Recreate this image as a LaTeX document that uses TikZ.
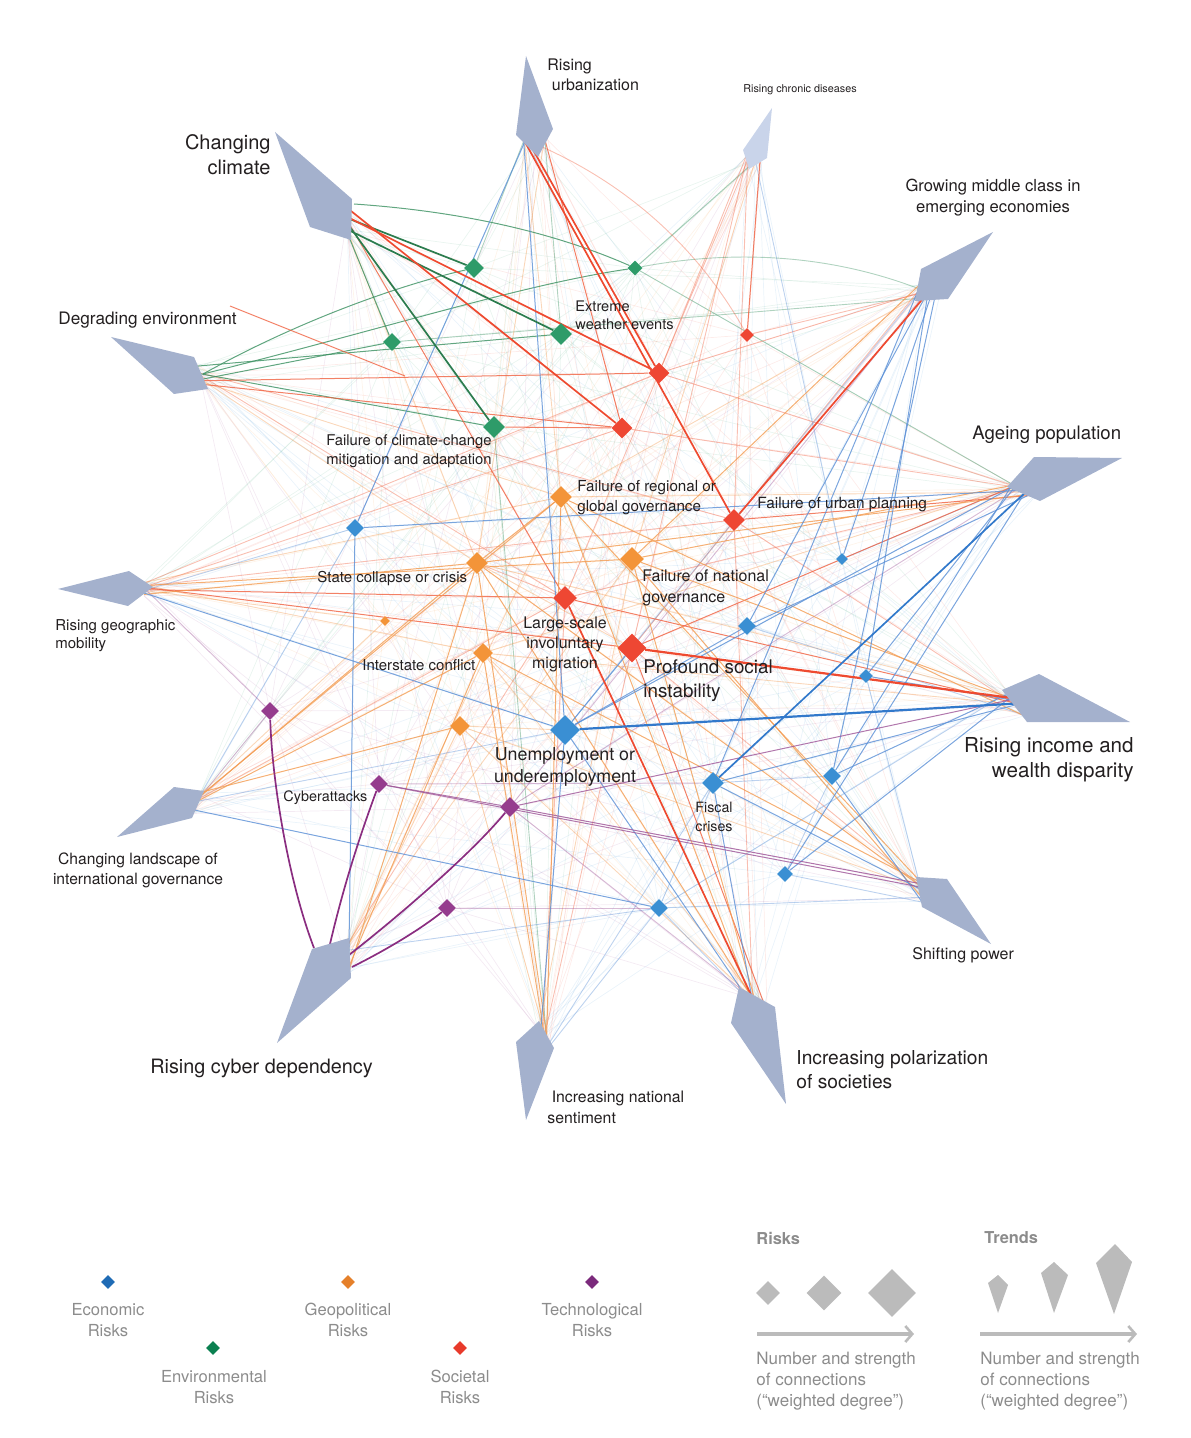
\documentclass[tikz,border=0pt]{standalone}
\usepackage{fontspec}
\setmainfont{TeX Gyre Heros}
\usetikzlibrary{shapes.geometric,arrows.meta,calc}
\pgfdeclarelayer{bg}
\pgfsetlayers{bg,main}
\definecolor{trendc}{HTML}{A4B1CD}
\definecolor{trendl}{HTML}{C9D4EA}
\definecolor{txt}{HTML}{231F20}
\definecolor{legtxt}{HTML}{8C8C8C}
\definecolor{leggray}{HTML}{BBBBBB}
\definecolor{env}{HTML}{2E9B69}
\definecolor{soc}{HTML}{EE4733}
\definecolor{geo}{HTML}{F39439}
\definecolor{eco}{HTML}{3A8FD3}
\definecolor{tec}{HTML}{953C8E}
\definecolor{envS}{HTML}{2C7C4E}
\definecolor{envM}{HTML}{3A9060}
\definecolor{socS}{HTML}{EE4A30}
\definecolor{socM}{HTML}{F0603F}
\definecolor{geoM}{HTML}{F39C52}
\definecolor{ecoS}{HTML}{3279CB}
\definecolor{ecoM}{HTML}{5A8FD6}
\definecolor{tecS}{HTML}{8A2D80}
\definecolor{tecM}{HTML}{9E5598}
\definecolor{legEco}{HTML}{1F6BB5}
\definecolor{legGeo}{HTML}{E5802A}
\definecolor{legTec}{HTML}{7B2A7C}
\definecolor{legEnv}{HTML}{0B8050}
\definecolor{legSoc}{HTML}{E83A2B}
\newcommand\myfs[2]{\fontsize{#1}{#2}\selectfont}
\tikzset{
  risk/.style={shape=diamond, fill=#1, inner sep=0pt, draw=none},
  lbl/.style={inner sep=0pt, text=txt},
  leglbl/.style={inner sep=0pt, text=legtxt, align=center},
  sE/.style={line width=0.85pt},
  mE/.style={line width=0.5pt, draw opacity=0.8},
  lE/.style={line width=0.45pt, draw opacity=0.4},
  hz/.style={line width=0.35pt, draw opacity=0.10},
}
\begin{document}
\begin{tikzpicture}[x=0.5pt,y=-0.5pt]
\pgfmathsetseed{7}
\path[use as bounding box] (0,0) rectangle (1190,1438);

% ---------- trend anchor coordinates (inner edge of each kite) ----------
\coordinate (urb-1) at (522,140);   \coordinate (urb-2) at (548,137);
\coordinate (clim-1) at (347,206);  \coordinate (clim-2) at (347,236);
\coordinate (chron-1) at (746,156); \coordinate (chron-2) at (762,162);
\coordinate (mid-1) at (919,284);   \coordinate (mid-2) at (940,297);
\coordinate (degr-1) at (195,362);  \coordinate (degr-2) at (204,388);
\coordinate (age-1) at (1011,484);  \coordinate (age-2) at (1036,497);
\coordinate (mob-1) at (144,581);   \coordinate (mob-2) at (144,596);
\coordinate (inc-1) at (1007,690);  \coordinate (inc-2) at (1025,717);
\coordinate (shift-1) at (919,880); \coordinate (shift-2) at (922,903);
\coordinate (land-1) at (199,792);  \coordinate (land-2) at (194,814);
\coordinate (cyber-1) at (346,943); \coordinate (cyber-2) at (349,975);
\coordinate (nat-1) at (537,1026);  \coordinate (nat-2) at (550,1046);
\coordinate (pol-1) at (738,993);   \coordinate (pol-2) at (770,1006);
\coordinate (cyberT) at (314,948);
\coordinate (cyberT2) at (330,944);
\coordinate (cyberM) at (349,955);
\coordinate (cyberR) at (352,967);
\coordinate (climT) at (354,204);
\coordinate (degrM) at (203,374);
\coordinate (midM) at (922,290);
\coordinate (urbM) at (540,146);
\coordinate (frA) at (230,306);
\coordinate (frB) at (405,376);

% ---------- risk diamonds ----------
\node[risk=env, minimum size=10pt] (envA) at (474,268) {};
\node[risk=env, minimum size=7.5pt] (envB) at (635,268) {};
\node[risk=env, minimum size=11pt] (envC) at (561,334) {};
\node[risk=env, minimum size=9pt] (envD) at (392,342) {};
\node[risk=env, minimum size=11pt] (envE) at (494,427) {};
\node[risk=soc, minimum size=7pt] (socA) at (747,335) {};
\node[risk=soc, minimum size=10.5pt] (socB) at (659,373) {};
\node[risk=soc, minimum size=10.5pt] (socC) at (622,428) {};
\node[risk=soc, minimum size=11pt] (socD) at (734,520) {};
\node[risk=soc, minimum size=12pt] (socE) at (565,598) {};
\node[risk=soc, minimum size=14.5pt] (socF) at (632,648) {};
\node[risk=geo, minimum size=11pt] (geoA) at (561,497) {};
\node[risk=geo, minimum size=11pt] (geoB) at (477,563) {};
\node[risk=geo, minimum size=12pt] (geoC) at (632,559) {};
\node[risk=geo, minimum size=5pt] (geoD) at (385,621) {};
\node[risk=geo, minimum size=10pt] (geoE) at (483,653) {};
\node[risk=geo, minimum size=10pt] (geoF) at (460,726) {};
\node[risk=eco, minimum size=9pt] (ecoA) at (355,528) {};
\node[risk=eco, minimum size=6pt] (ecoB) at (842,559) {};
\node[risk=eco, minimum size=9pt] (ecoC) at (747,626) {};
\node[risk=eco, minimum size=7pt] (ecoD) at (866,676) {};
\node[risk=eco, minimum size=15pt] (ecoE) at (565,730) {};
\node[risk=eco, minimum size=11pt] (ecoF) at (713,783) {};
\node[risk=eco, minimum size=9pt] (ecoG) at (832,776) {};
\node[risk=eco, minimum size=8pt] (ecoH) at (785,874) {};
\node[risk=eco, minimum size=9pt] (ecoI) at (659,908) {};
\node[risk=tec, minimum size=9pt] (tecA) at (270,711) {};
\node[risk=tec, minimum size=9pt] (tecB) at (379,784) {};
\node[risk=tec, minimum size=10pt] (tecC) at (510,807) {};
\node[risk=tec, minimum size=9pt] (tecD) at (447,908) {};

% ---------- connectors ----------
\begin{pgfonlayer}{bg}
% faint haze: trend to risk
\foreach \t in {urb,clim,chron,mid,degr,age,mob,inc,shift,land,cyber,nat,pol}{
  \foreach \r/\c in {envA/env,envB/env,envC/env,envD/env,envE/env,socA/soc,socB/soc,socC/soc,socD/soc,socE/soc,socF/soc,geoA/geo,geoB/geo,geoC/geo,geoD/geo,geoE/geo,geoF/geo,ecoA/eco,ecoB/eco,ecoC/eco,ecoD/eco,ecoE/eco,ecoF/eco,ecoG/eco,ecoH/eco,ecoI/eco,tecA/tec,tecB/tec,tecC/tec,tecD/tec}{
    \draw[hz,draw=\c] ($(\t-1)!rnd!(\t-2)$) -- (\r);
  }
}
% light: trend to risk
\foreach \a/\b in {urb/envA,urb/envC,mid/envD,chron/envB,age/envB,nat/envE}
  \draw[lE,envM] ($(\a-1)!rnd!(\a-2)$) -- (\b);
\foreach \a/\b in {degr/socE,chron/socB,chron/socE,chron/socF,chron/socD,land/socE,mob/socB,mob/socC,mob/socD,nat/socF,nat/socE,shift/socF,age/socE,mid/socA,mid/socB,mid/socF,cyber/socE,inc/socD,pol/socD,age/socB,age/socC,degr/socD}
  \draw[lE,socM] ($(\a-1)!rnd!(\a-2)$) -- (\b);
\foreach \a/\b in {mob/geoA,mob/geoE,mob/geoD,land/geoD,cyber/geoA,cyber/geoC,cyber/geoF,nat/geoC,nat/geoF,pol/geoE,pol/geoF,shift/geoF,age/geoA,age/geoE,inc/geoB,inc/geoE,degr/geoB,degr/geoA,urb/geoA,urb/geoB,chron/geoC,mid/geoA,clim/geoB}
  \draw[lE,geoM] ($(\a-1)!rnd!(\a-2)$) -- (\b);
\foreach \a/\b in {inc/ecoI,inc/ecoC,shift/ecoH,shift/ecoD,shift/ecoI,pol/ecoI,cyber/ecoI,land/ecoE,nat/ecoI,nat/ecoF,land/ecoA,mob/ecoA,age/ecoB,chron/ecoB,mid/ecoE}
  \draw[lE,ecoM] ($(\a-1)!rnd!(\a-2)$) -- (\b);
\foreach \a/\b in {age/tecC,pol/tecC,land/tecA,mid/tecC,mob/tecA}
  \draw[lE,tecM] ($(\a-1)!rnd!(\a-2)$) -- (\b);
% light: risk to risk
\foreach \a/\b in {geoF/ecoE,geoE/ecoE,geoB/socF}
  \draw[lE,geoM] (\a) -- (\b);
\foreach \a/\b in {geoB/socE}
  \draw[lE,socM] (\a) -- (\b);
\foreach \a/\b in {ecoF/ecoG,ecoF/ecoI,ecoH/ecoG}
  \draw[lE,ecoM] (\a) -- (\b);
\foreach \a/\b in {tecD/ecoI,tecB/ecoF}
  \draw[lE,tecM] (\a) -- (\b);
\draw[lE,envM] (midM) .. controls (820,250) and (720,252) .. (envB);
\draw[lE,socM] (urbM) .. controls (640,190) and (705,260) .. (socA);
% medium: trend to risk
\foreach \a/\b in {clim/envD,degr/envC,degr/envD,degr/envE}
  \draw[mE,envM] ($(\a-1)!rnd!(\a-2)$) -- (\b);
\draw[mE,envM] (climT) .. controls (470,212) and (560,235) .. (envB);
\draw[mE,envM] (degrM) .. controls (300,320) and (400,285) .. (envA);
\draw[mE,envM] (degrM) .. controls (380,330) and (520,285) .. (envB);
\foreach \a/\b in {urb/socC,degr/socB,degr/socC,mob/socE,mob/socF,age/socF,age/socD,pol/socF,inc/socE,chron/socA,clim/socE}
  \draw[mE,socM] ($(\a-1)!rnd!(\a-2)$) -- (\b);
\draw[mE,socM] (frA) -- (frB);
\foreach \a/\b in {land/geoA,land/geoB,land/geoE,land/geoF,mob/geoB,mob/geoC,cyber/geoB,cyber/geoE,nat/geoB,nat/geoE,nat/geoA,pol/geoB,pol/geoC,pol/geoA,shift/geoB,shift/geoE,shift/geoA,shift/geoC,age/geoC,age/geoB,inc/geoC,mid/geoC,inc/geoA}
  \draw[mE,geoM] ($(\a-1)!rnd!(\a-2)$) -- (\b);
\foreach \a/\b in {mid/ecoB,mid/ecoC,mid/ecoD,mid/ecoG,mid/ecoF,age/ecoC,age/ecoD,age/ecoE,age/ecoG,age/ecoH,age/ecoA,inc/ecoF,inc/ecoG,inc/ecoD,inc/ecoH,shift/ecoG,shift/ecoF,pol/ecoF,pol/ecoE,mob/ecoE,urb/ecoA,urb/ecoE,cyber/ecoA,land/ecoI,nat/ecoE}
  \draw[mE,ecoM] ($(\a-1)!rnd!(\a-2)$) -- (\b);
\foreach \a/\b in {inc/tecC,shift/tecC,shift/tecB}
  \draw[mE,tecM] ($(\a-1)!rnd!(\a-2)$) -- (\b);
% medium: risk to risk
\draw[mE,socM] (envE) -- (socC);
\draw[mE,geoM] (geoB) -- (geoA);
\draw[mE,ecoM] (ecoE) -- (socF);
\draw[mE,ecoM] (ecoE) -- (ecoC);
\draw[mE,tecM] (tecB) -- (tecC);
% strong
\foreach \a/\b in {clim/envA,clim/envC,clim/envE}
  \draw[sE,envS] ($(\a-1)!rnd!(\a-2)$) -- (\b);
\foreach \a/\b in {urb/socB,urb/socD,clim/socB,clim/socC,mid/socD,pol/socE}
  \draw[sE,socS] ($(\a-1)!rnd!(\a-2)$) -- (\b);
\draw[sE,socS,line width=1.1pt] ($(inc-1)!0.3!(inc-2)$) -- (socF);
\draw[sE,ecoS] ($(age-1)!0.6!(age-2)$) -- (ecoF);
\draw[sE,ecoS,line width=1.1pt] ($(inc-1)!0.5!(inc-2)$) -- (ecoE);
\draw[sE,tecS] (cyberT) .. controls (288,880) and (272,780) .. (tecA);
\draw[sE,tecS] (cyberT2) .. controls (345,880) and (362,830) .. (tecB);
\draw[sE,tecS] (cyberM) .. controls (400,915) and (470,855) .. (tecC);
\draw[sE,tecS] (cyberR) .. controls (390,948) and (422,928) .. (tecD);
\end{pgfonlayer}

% ---------- trend kites ----------
\fill[trendc] (526,56) -- (516,135) -- (538,157) -- (553,129) -- cycle;
\fill[trendc] (275,132) -- (352,199) -- (351,240) -- (310,227) -- cycle;
\fill[trendl] (772,108) -- (743,150) -- (749,169) -- (767,158) -- cycle;
\fill[trendc] (993,232) -- (921,269) -- (915,301) -- (948,299) -- cycle;
\fill[trendc] (111,337) -- (194,357) -- (208,389) -- (174,394) -- cycle;
\fill[trendc] (1122,458) -- (1034,457) -- (1007,487) -- (1040,501) -- cycle;
\fill[trendc] (58,589) -- (129,571) -- (153,587) -- (128,606) -- cycle;
\fill[trendc] (1130,722) -- (1039,674) -- (1002,690) -- (1027,722) -- cycle;
\fill[trendc] (991,944) -- (947,879) -- (916,877) -- (922,907) -- cycle;
\fill[trendc] (117,837) -- (174,787) -- (204,791) -- (192,818) -- cycle;
\fill[trendc] (277,1043) -- (312,949) -- (349,938) -- (351,978) -- cycle;
\fill[trendc] (526,1120) -- (516,1042) -- (539,1021) -- (554,1048) -- cycle;
\fill[trendc] (786,1104) -- (731,1023) -- (739,987) -- (775,1007) -- cycle;

% ---------- labels ----------
\node[lbl, anchor=west, align=left, font=\myfs{8pt}{10pt}] (l-urb) at (547,75) {Rising\\\ urbanization};
\node[lbl, anchor=east, align=right, font=\myfs{10pt}{12.5pt}] (l-clim) at (271,155) {Changing\\climate};
\node[lbl, font=\myfs{5.4pt}{6.5pt}] (l-chron) at (800,90) {Rising chronic diseases};
\node[lbl, align=center, font=\myfs{8.3pt}{10.6pt}] (l-mid) at (993,198) {Growing middle class in\\emerging economies};
\node[lbl, anchor=west, font=\myfs{8.6pt}{10.5pt}] (l-degr) at (58,320) {Degrading environment};
\node[lbl, anchor=west, align=left, font=\myfs{7.3pt}{9pt}] (l-envC) at (575,315) {Extreme\\weather events};
\node[lbl, align=center, font=\myfs{7.4pt}{9.5pt}] (l-envE) at (409,451) {Failure of climate-change\\mitigation and adaptation};
\node[lbl, anchor=west, font=\myfs{9.3pt}{11pt}] (l-age) at (972,435) {Ageing population};
\node[lbl, anchor=west, align=left, font=\myfs{7.6pt}{10pt}] (l-geoA) at (577,498) {Failure of regional or\\global governance};
\node[lbl, anchor=west, font=\myfs{7.7pt}{9pt}] (l-socD) at (757,505) {Failure of urban planning};
\node[lbl, anchor=west, font=\myfs{7.5pt}{9pt}] (l-geoB) at (317,579) {State collapse or crisis};
\node[lbl, anchor=west, align=left, font=\myfs{8pt}{10.5pt}] (l-geoC) at (642,588) {Failure of national\\governance};
\node[lbl, anchor=west, align=left, font=\myfs{7.5pt}{9pt}] (l-mob) at (55,636) {Rising geographic\\mobility};
\node[lbl, align=center, font=\myfs{8pt}{10pt}] (l-socE) at (565,644) {Large-scale\\involuntary\\migration};
\node[lbl, anchor=west, font=\myfs{7.5pt}{9pt}] (l-geoE) at (362,665) {Interstate conflict};
\node[lbl, anchor=west, align=left, font=\myfs{9.4pt}{12pt}] (l-socF) at (643,681) {Profound social\\instability};
\node[lbl, anchor=east, align=right, font=\myfs{10.3pt}{12.5pt}] (l-inc) at (1134,760) {Rising income and\\wealth disparity};
\node[lbl, align=center, font=\myfs{8.9pt}{11pt}] (l-ecoE) at (565,767) {Unemployment or\\underemployment};
\node[lbl, anchor=west, font=\myfs{7.2pt}{9pt}] (l-tecB) at (283,798) {Cyberattacks};
\node[lbl, align=center, font=\myfs{7.1pt}{9.5pt}] (l-ecoF) at (714,817) {Fiscal\\crises};
\node[lbl, align=center, font=\myfs{7.8pt}{10pt}] (l-land) at (138,870) {Changing landscape of\\international governance};
\node[lbl, anchor=west, font=\myfs{8pt}{9pt}] (l-shift) at (912,955) {Shifting power};
\node[lbl, anchor=west, font=\myfs{9.9pt}{12pt}] (l-cyber) at (150,1068) {Rising cyber dependency};
\node[lbl, anchor=west, align=left, font=\myfs{9.6pt}{12pt}] (l-pol) at (796,1070) {Increasing polarization\\of societies};
\node[lbl, anchor=west, align=left, font=\myfs{7.9pt}{10.5pt}] (l-nat) at (547,1107) {\ Increasing national\\sentiment};

% ---------- legend ----------
\node[risk=legEco, minimum size=7pt] (leco) at (108,1282) {};
\node[risk=legGeo, minimum size=7pt] (lgeo) at (348,1282) {};
\node[risk=legTec, minimum size=7pt] (ltec) at (592,1282) {};
\node[risk=legEnv, minimum size=7pt] (lenv) at (213,1348) {};
\node[risk=legSoc, minimum size=7pt] (lsoc) at (460,1348) {};
\node[leglbl, font=\myfs{8.3pt}{10.5pt}] (t-eco) at (108,1320) {Economic\\Risks};
\node[leglbl, font=\myfs{8.3pt}{10.5pt}] (t-geo) at (348,1320) {Geopolitical\\Risks};
\node[leglbl, font=\myfs{8.3pt}{10.5pt}] (t-tec) at (592,1320) {Technological\\Risks};
\node[leglbl, font=\myfs{8.3pt}{10.5pt}] (t-env) at (214,1387) {Environmental\\Risks};
\node[leglbl, font=\myfs{8.3pt}{10.5pt}] (t-soc) at (460,1387) {Societal\\Risks};

\node[inner sep=0pt, text=legtxt, anchor=west, font=\bfseries\myfs{8.2pt}{10pt}] (h-risks) at (756,1238) {Risks};
\node[inner sep=0pt, text=legtxt, anchor=west, font=\bfseries\myfs{8.2pt}{10pt}] (h-trends) at (984,1238) {Trends};

\node[risk=leggray, minimum size=12pt] (sz1) at (768,1293) {};
\node[risk=leggray, minimum size=17.5pt] (sz2) at (824,1293) {};
\node[risk=leggray, minimum size=24pt] (sz3) at (892,1293) {};
\fill[leggray] (998,1275) -- (1008,1285) -- (998,1313) -- (988,1283) -- cycle;
\fill[leggray] (1054,1262) -- (1068,1275) -- (1054,1313) -- (1041,1273) -- cycle;
\fill[leggray] (1115,1244) -- (1132,1262) -- (1114,1314) -- (1096,1263) -- cycle;

\coordinate (ra1) at (757,1334);
\coordinate (ra2) at (914,1334);
\coordinate (ta1) at (980,1334);
\coordinate (ta2) at (1137,1334);
\draw[leggray, line width=2pt, -{Straight Barb[length=3.5pt,width=8pt,line width=1.3pt]}] (ra1) -- (ra2);
\draw[leggray, line width=2pt, -{Straight Barb[length=3.5pt,width=8pt,line width=1.3pt]}] (ta1) -- (ta2);
\node[inner sep=0pt, text=legtxt, anchor=west, align=left, font=\myfs{8.5pt}{10.5pt}] (n-risks) at (756,1381) {Number and strength\\of connections\\(“weighted degree”)};
\node[inner sep=0pt, text=legtxt, anchor=west, align=left, font=\myfs{8.5pt}{10.5pt}] (n-trends) at (980,1381) {Number and strength\\of connections\\(“weighted degree”)};
\end{tikzpicture}
\end{document}
